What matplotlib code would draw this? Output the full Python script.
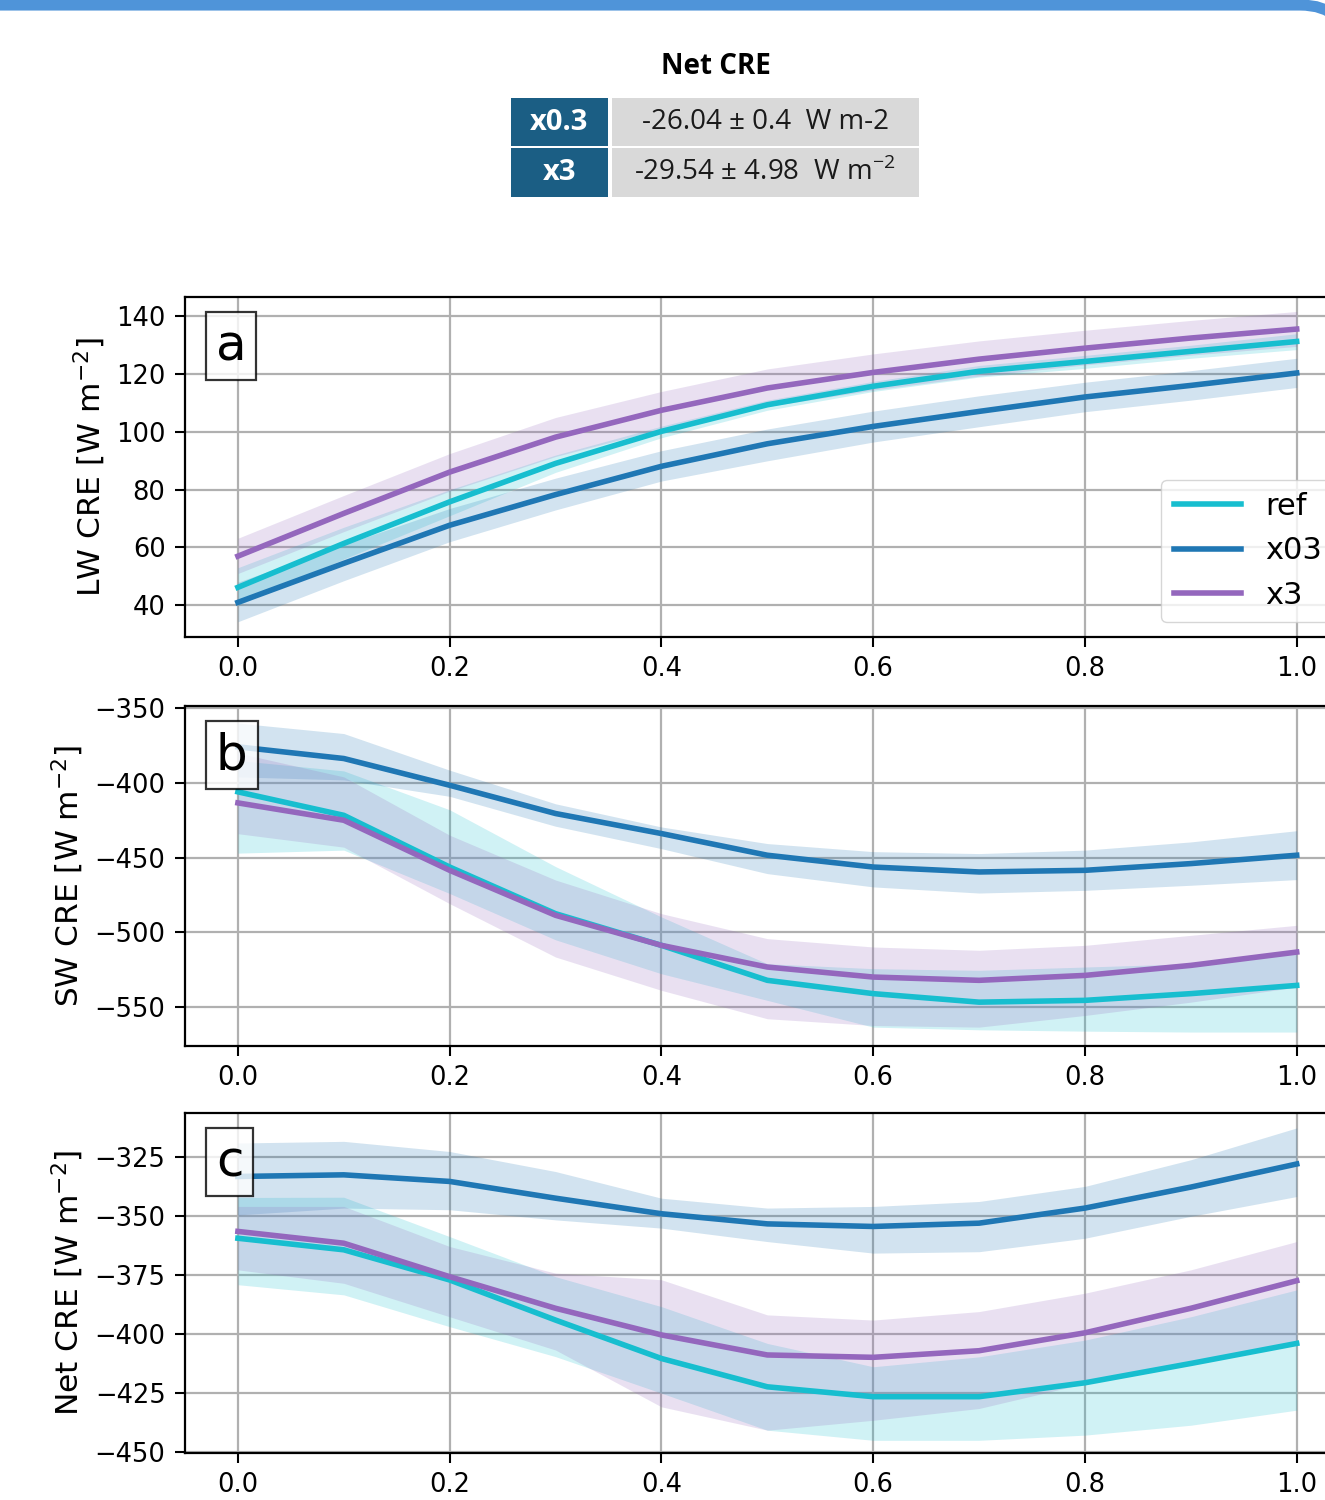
import numpy as np
import matplotlib
matplotlib.use("Agg")
from matplotlib import pyplot as plt
from matplotlib.patches import Rectangle, FancyBboxPatch

# x axis (fraction)
x = [0.0, 0.1, 0.2, 0.3, 0.4, 0.5, 0.6, 0.7, 0.8, 0.9, 1.0]

# panel a: LW CRE
lw_ref = [46.2, 61.4, 75.8, 89.1, 100.2, 109.4, 115.8, 121.0, 124.4, 127.9, 131.3]
lw_ref_lo = [40, 56, 71, 86, 98, 107.5, 114, 119, 122, 125.5, 128.5]
lw_ref_hi = [53, 67, 80, 92, 102, 111, 117.5, 123, 126.5, 130, 134]
lw_x03 = [41.0, 54.5, 67.7, 78.3, 88.1, 95.9, 101.9, 107.1, 112.1, 116.1, 120.4]
lw_x03_lo = [34.3, 48.5, 62, 73, 83, 90, 96.5, 101.8, 107, 111, 115.4]
lw_x03_hi = [48, 61, 73.5, 84, 93.5, 101, 107.2, 112.5, 117.2, 121.2, 125.5]
lw_x3 = [57.0, 71.8, 86.1, 98.2, 107.5, 115.2, 120.6, 125.2, 129.0, 132.5, 135.6]
lw_x3_lo = [51, 65.5, 79.5, 91.5, 101, 108.8, 114.5, 119.3, 123.2, 126.6, 129.6]
lw_x3_hi = [63.2, 78, 92.5, 105, 114, 121.8, 127, 131.5, 135.2, 138.6, 141.7]

# panel b: SW CRE
sw_ref = [-406.0, -421.7, -456.3, -487.5, -508.7, -532.1, -541.0, -546.7, -545.5, -541.0, -535.5]
sw_ref_lo = [-447, -445, -474, -505, -527.7, -545.5, -563.4, -565.2, -566.1, -566.7, -566.7]
sw_ref_hi = [-385, -392, -418, -456, -489.7, -521, -524.3, -525.4, -523.2, -521, -512]
sw_x03 = [-375.9, -383.7, -401.6, -420.5, -433.9, -448.4, -456.3, -459.6, -458.5, -454.0, -448.4]
sw_x03_lo = [-396, -398, -409, -429, -444, -460.7, -469.6, -473.7, -471.9, -468.5, -464.7]
sw_x03_hi = [-360, -367, -391.5, -414, -429.5, -440.6, -446, -447.3, -445, -439.5, -432]
sw_x3 = [-413.4, -425.0, -458.5, -488.6, -508.7, -523.2, -529.9, -532.1, -528.8, -522.1, -513.2]
sw_x3_lo = [-434, -443, -480.8, -516.5, -538.8, -557.8, -562.3, -563.4, -555.6, -546.7, -536.6]
sw_x3_hi = [-380, -396, -435, -465, -487.5, -504.2, -509.8, -512, -508.7, -502, -495.3]

# panel c: Net CRE
net_ref = [-359.3, -364.2, -377.0, -394.0, -410.3, -422.3, -426.5, -426.5, -420.6, -412.4, -403.9]
net_ref_lo = [-379, -383.3, -396.8, -409.5, -425, -440.7, -445, -445, -442.8, -438.6, -432.2]
net_ref_hi = [-342, -341.9, -358.6, -375.6, -388.3, -403.9, -413.8, -409.6, -402.5, -392.6, -381.2]
net_x03 = [-333.1, -332.4, -335.2, -342.3, -348.9, -353.2, -354.3, -352.9, -346.5, -337.6, -327.8]
net_x03_lo = [-349.4, -346.5, -347.2, -351.5, -355, -360.7, -365.6, -365, -359.3, -350, -341.6]
net_x03_hi = [-318.9, -318.2, -322.5, -331, -342.3, -346.5, -345.8, -343.7, -337.3, -326, -312.5]
net_x3 = [-356.4, -361.4, -375.6, -389.0, -400.3, -408.8, -409.8, -407.0, -399.4, -389.0, -377.3]
net_x3_lo = [-372.7, -378.4, -392.6, -406.7, -430.8, -440.7, -436.5, -431.5, -420.9, -412, -403.9]
net_x3_hi = [-345.8, -345.8, -362.8, -374.1, -376.9, -391.8, -394, -390.4, -382.6, -372.7, -360.7]

labels = ["ref", "x03", "x3"]
colors = ["#17becf", "#1f77b4", "#9467bd"]

# table at the top
table_rows = ["x0.3", "x3"]
table_vals = ["-26.04 ± 0.4  W m-2", r"-29.54 ± 4.98  W m$^{\mathregular{-2}}$"]

fig = plt.figure(figsize=(13.25, 15), dpi=100)

# background layer in pixel coords (frame + table)
bg = fig.add_axes([0, 0, 1, 1], zorder=-1)
bg.set_xlim(0, 1325)
bg.set_ylim(1500, 0)
bg.axis("off")
bg.add_patch(FancyBboxPatch((-100, 5), 1448, 2000, boxstyle="round,pad=0,rounding_size=48",
                            ec="#4f94d9", fc="none", lw=8))
bg.text(716, 67, "Net CRE", ha="center", va="center", fontsize=20, fontweight="bold",
        family="Open Sans")
row_y = [98, 148]
row_h = [48, 49]
for i in range(len(table_rows)):
    bg.add_patch(Rectangle((511, row_y[i]), 97, row_h[i], fc="#1b5e84", ec="none"))
    bg.add_patch(Rectangle((612, row_y[i]), 307, row_h[i], fc="#d9d9d9", ec="none"))
    bg.text(559.5, row_y[i] + row_h[i] / 2, table_rows[i], ha="center", va="center",
            color="white", fontsize=21, fontweight="bold", family="Open Sans")
    bg.text(765, row_y[i] + row_h[i] / 2, table_vals[i], ha="center", va="center",
            color="#1a1a1a", fontsize=20, family="Open Sans")

panels = [
    ("a", "LW CRE [W m$^{-2}$]", [lw_ref, lw_x03, lw_x3], [lw_ref_lo, lw_x03_lo, lw_x3_lo],
     [lw_ref_hi, lw_x03_hi, lw_x3_hi], (29, 146.6), np.arange(40, 141, 20), 0.5753),
    ("b", "SW CRE [W m$^{-2}$]", [sw_ref, sw_x03, sw_x3], [sw_ref_lo, sw_x03_lo, sw_x3_lo],
     [sw_ref_hi, sw_x03_hi, sw_x3_hi], (-576, -348.7), np.arange(-550, -349, 50), 0.3027),
    ("c", "Net CRE [W m$^{-2}$]", [net_ref, net_x03, net_x3], [net_ref_lo, net_x03_lo, net_x3_lo],
     [net_ref_hi, net_x03_hi, net_x3_hi], (-450.4, -306.3), np.arange(-450, -324, 25), 0.0313),
]

for letter, ylabel, means, lows, highs, ylim, yticks, bottom in panels:
    ax = fig.add_axes([0.1396, bottom, 0.879, 0.2265])
    for m, lo, hi, c, lab in zip(means, lows, highs, colors, labels):
        ax.fill_between(x, lo, hi, color=c, alpha=0.2, lw=0)
    for m, c, lab in zip(means, colors, labels):
        ax.plot(x, m, color=c, lw=4, label=lab)
    ax.set_xlim(-0.05, 1.05)
    ax.set_ylim(ylim)
    ax.set_xticks([0, 0.2, 0.4, 0.6, 0.8, 1.0])
    ax.set_yticks(yticks)
    ax.grid(True, color="#b0b0b0", lw=1.6)
    ax.set_axisbelow(True)
    ax.tick_params(labelsize=18.5, length=7, width=1.5, pad=7)
    for s in ax.spines.values():
        s.set_linewidth(1.6)
    ax.set_ylabel(ylabel, fontsize=22.5, labelpad=6)
    ax.text(0.0155 + 0.011, 0.962 - 0.035, letter, transform=ax.transAxes, ha="left", va="top",
            fontsize=36, bbox=dict(boxstyle="square,pad=0.2", fc="white", ec="black", alpha=0.8, lw=1.6))
    if letter == "a":
        ax.legend(loc="lower right", fontsize=22, handlelength=2.2)

plt.savefig("out.png", dpi=100)
